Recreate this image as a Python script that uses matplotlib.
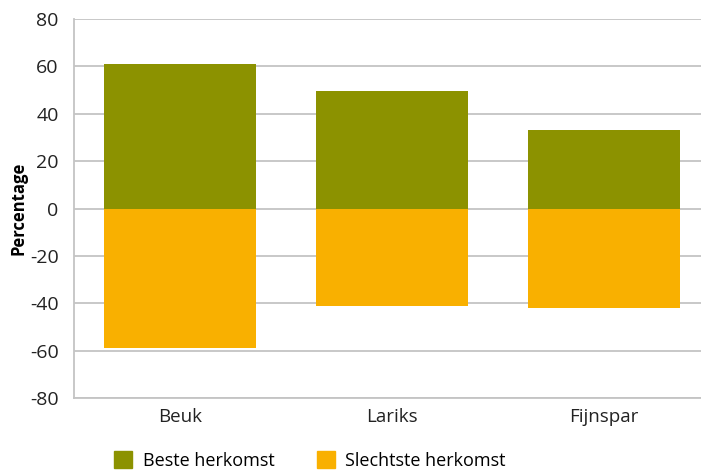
import numpy as np
import matplotlib.pyplot as plt
from matplotlib.patches import Patch

categories = ["Beuk", "Lariks", "Fijnspar"]
beste = [61.2, 49.4, 33.3]
slechtste = [-59.0, -41.0, -42.0]
yticks = [-80, -60, -40, -20, 0, 20, 40, 60, 80]

green = "#8c9200"
orange = "#f9b000"
grid_col = "#c4c4c4"

plt.rcParams["font.family"] = ["Open Sans", "DejaVu Sans"]

fig = plt.figure(figsize=(7.01, 4.72), dpi=100)
# axes reaches a bit beyond the right edge, like the original
ax = fig.add_axes([0.1056, 0.1568, 0.907, 0.8029])

x = np.arange(len(categories))
ax.bar(x, beste, width=0.72, color=green, zorder=3)
ax.bar(x, slechtste, width=0.72, color=orange, zorder=3)

ax.set_xlim(-0.5, 2.5)
ax.set_ylim(-80, 80)
ax.set_yticks(yticks)
ax.set_yticklabels([str(t) for t in yticks], fontsize=14, color="#222222")
ax.set_xticks(x)
ax.set_xticklabels(categories, fontsize=13.5, color="#222222")
ax.tick_params(axis="x", length=0, pad=7)
ax.tick_params(axis="y", length=0, pad=11)
ax.yaxis.grid(True, color=grid_col, linewidth=1.3, zorder=0)

for side in ["top", "right"]:
    ax.spines[side].set_visible(False)
for side in ["left", "bottom"]:
    ax.spines[side].set_color(grid_col)
    ax.spines[side].set_linewidth(1.3)

ax.set_ylabel("Percentage", fontsize=12, fontweight="bold", labelpad=2)

handles = [Patch(color=green, label="Beste herkomst"),
           Patch(color=orange, label="Slechtste herkomst")]
fig.legend(handles=handles, loc="lower left", bbox_to_anchor=(0.14, -0.03),
           ncol=2, frameon=False, fontsize=13, handlelength=1.0, handleheight=1.1,
           columnspacing=2.3, handletextpad=0.6)

fig.savefig("out.png", dpi=100)
